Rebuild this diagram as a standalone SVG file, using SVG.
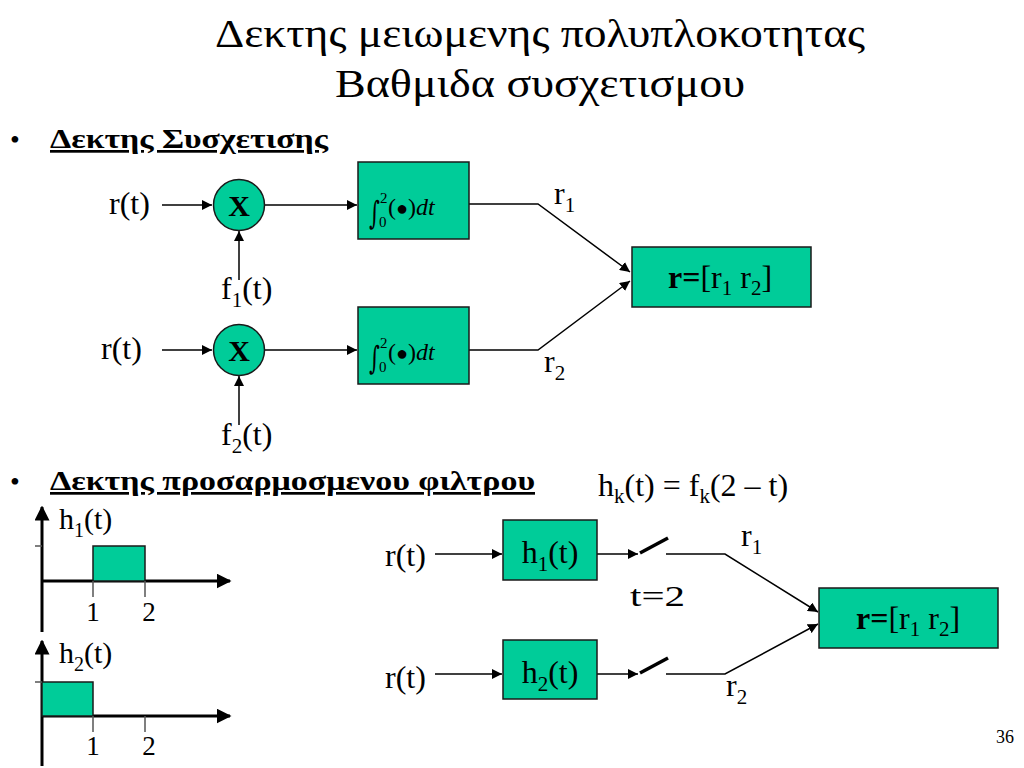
<svg xmlns="http://www.w3.org/2000/svg" width="1024" height="768" viewBox="0 0 1024 768" font-family="Liberation Serif, serif">
<defs>
<marker id="arr" viewBox="0 0 10 10" refX="10" refY="5" markerWidth="10" markerHeight="10" markerUnits="userSpaceOnUse" orient="auto">
<path d="M0,0 L10,5 L0,10 z" fill="#000"/>
</marker>
<marker id="axarr" viewBox="0 0 10 10" refX="9" refY="5" markerWidth="5" markerHeight="5" orient="auto">
<path d="M0,0 L10,5 L0,10 z" fill="#000"/>
</marker>
</defs>
<style>
.t{font-size:32px}
.title{font-size:40px}
.head{font-size:27px;font-weight:bold;text-decoration:underline}
.box{fill:#00CC99;stroke:#1a1a1a;stroke-width:1.5}
.ln{stroke:#000;stroke-width:1.5;fill:none}
.ax{stroke:#000;stroke-width:3;fill:none}
.tk{stroke:#555;stroke-width:1.5}
.sw{stroke:#000;stroke-width:3.5}
</style>
<rect width="1024" height="768" fill="#fff"/>
<text class="title" x="215" y="47" textLength="650" lengthAdjust="spacingAndGlyphs">Δεκτης μειωμενης πολυπλοκοτητας</text>
<text class="title" x="335" y="97" textLength="410" lengthAdjust="spacingAndGlyphs">Βαθμιδα συσχετισμου</text>

<text x="10" y="149" font-size="28">•</text>
<text class="head" x="50" y="148" textLength="278" lengthAdjust="spacingAndGlyphs">Δεκτης Συσχετισης</text>
<text x="10" y="491" font-size="28">•</text>
<text class="head" x="50" y="490" textLength="485" lengthAdjust="spacingAndGlyphs">Δεκτης προσαρμοσμενου φιλτρου</text>
<text x="598" y="496" font-size="32">h<tspan dy="7" font-size="21">k</tspan><tspan dy="-7">(t) = f</tspan><tspan dy="7" font-size="21">k</tspan><tspan dy="-7">(2 – t)</tspan></text>

<g id="connectors">
<line class="ln" x1="162" y1="205" x2="212" y2="205" marker-end="url(#arr)"/>
<line class="ln" x1="264" y1="205" x2="357" y2="205" marker-end="url(#arr)"/>
<line class="ln" x1="239" y1="280" x2="239" y2="231" marker-end="url(#arr)"/>
<line class="ln" x1="162" y1="350" x2="212" y2="350" marker-end="url(#arr)"/>
<line class="ln" x1="264" y1="350" x2="357" y2="350" marker-end="url(#arr)"/>
<line class="ln" x1="239" y1="425" x2="239" y2="376" marker-end="url(#arr)"/>
<polyline class="ln" points="469,204 538,204 630,272" marker-end="url(#arr)"/>
<polyline class="ln" points="469,350 538,350 630,281" marker-end="url(#arr)"/>

<line class="ln" x1="435" y1="554" x2="502" y2="554" marker-end="url(#arr)"/>
<line class="ln" x1="597" y1="554" x2="638" y2="554" marker-end="url(#arr)"/>
<line class="sw" x1="640" y1="553" x2="668" y2="538"/>
<polyline class="ln" points="666,554 725,554 818,612" marker-end="url(#arr)"/>
<line class="ln" x1="435" y1="674" x2="502" y2="674" marker-end="url(#arr)"/>
<line class="ln" x1="597" y1="674" x2="638" y2="674" marker-end="url(#arr)"/>
<line class="sw" x1="640" y1="673" x2="668" y2="658"/>
<polyline class="ln" points="666,674 725,674 818,624" marker-end="url(#arr)"/>
</g>

<g id="in1"><text class="t" x="109" y="214">r(t)</text></g>
<g id="mult1">
<circle cx="239" cy="205" r="25.5" class="box"/>
<text x="239" y="216" font-size="30" font-weight="bold" text-anchor="middle">X</text>
</g>
<g id="f1"><text class="t" x="221" y="299">f<tspan dy="8" font-size="21">1</tspan><tspan dy="-8">(t)</tspan></text></g>
<g id="int1">
<rect class="box" x="358" y="162" width="111" height="77"/>
<text x="369" y="224" font-size="32" font-family="DejaVu Serif, serif" transform="translate(369,224) scale(0.65,1) translate(-369,-224)">∫</text>
<text x="380" y="203" font-size="15">2</text>
<text x="379" y="227" font-size="15">0</text>
<text x="388" y="215" font-size="24">(<tspan font-size="20">●</tspan>)<tspan font-style="italic">dt</tspan></text>
</g>
<g id="in2"><text class="t" x="101" y="359">r(t)</text></g>
<g id="mult2">
<circle cx="239" cy="350" r="25.5" class="box"/>
<text x="239" y="361" font-size="30" font-weight="bold" text-anchor="middle">X</text>
</g>
<g id="f2"><text class="t" x="221" y="445">f<tspan dy="8" font-size="21">2</tspan><tspan dy="-8">(t)</tspan></text></g>
<g id="int2">
<rect class="box" x="358" y="307" width="111" height="77"/>
<text x="369" y="369" font-size="32" font-family="DejaVu Serif, serif" transform="translate(369,369) scale(0.65,1) translate(-369,-369)">∫</text>
<text x="380" y="348" font-size="15">2</text>
<text x="379" y="372" font-size="15">0</text>
<text x="388" y="360" font-size="24">(<tspan font-size="20">●</tspan>)<tspan font-style="italic">dt</tspan></text>
</g>
<g id="lab_r1a"><text class="t" x="554" y="204">r<tspan dy="8" font-size="21">1</tspan></text></g>
<g id="lab_r2a"><text class="t" x="544" y="372">r<tspan dy="8" font-size="21">2</tspan></text></g>
<g id="vec1">
<rect class="box" x="632" y="247" width="179" height="60"/>
<text class="t" x="720" y="288" text-anchor="middle"><tspan font-weight="bold">r=</tspan>[r<tspan dy="7" font-size="21">1</tspan><tspan dy="-7"> r</tspan><tspan dy="7" font-size="21">2</tspan><tspan dy="-7">]</tspan></text>
</g>

<g id="plot1">
<polyline class="ax" points="42,632 42,507" marker-end="url(#axarr)"/>
<polyline class="ax" points="42,581 230,581" marker-end="url(#axarr)"/>
<rect x="93" y="546" width="52" height="35" fill="#00CC99" stroke="#1a1a1a" stroke-width="1.5"/>
<line class="tk" x1="35" y1="546" x2="42" y2="546"/>
<line class="tk" x1="93" y1="581" x2="93" y2="597"/>
<line class="tk" x1="145" y1="581" x2="145" y2="597"/>
<text x="93" y="621" font-size="27" text-anchor="middle">1</text>
<text x="149" y="621" font-size="27" text-anchor="middle">2</text>
<text x="59" y="529" font-size="30">h<tspan dy="8" font-size="20">1</tspan><tspan dy="-8">(t)</tspan></text>
</g>
<g id="plot2">
<polyline class="ax" points="42,766 42,641" marker-end="url(#axarr)"/>
<polyline class="ax" points="42,716 230,716" marker-end="url(#axarr)"/>
<rect x="42" y="682" width="51" height="34" fill="#00CC99" stroke="#1a1a1a" stroke-width="1.5"/>
<line class="tk" x1="35" y1="682" x2="42" y2="682"/>
<line class="tk" x1="93" y1="716" x2="93" y2="732"/>
<line class="tk" x1="145" y1="716" x2="145" y2="732"/>
<text x="93" y="755" font-size="27" text-anchor="middle">1</text>
<text x="149" y="755" font-size="27" text-anchor="middle">2</text>
<text x="59" y="663" font-size="30">h<tspan dy="8" font-size="20">2</tspan><tspan dy="-8">(t)</tspan></text>
</g>

<g id="in3"><text class="t" x="385" y="566">r(t)</text></g>
<g id="h1box">
<rect class="box" x="503" y="520" width="94" height="60"/>
<text class="t" x="550" y="563" text-anchor="middle">h<tspan dy="8" font-size="21">1</tspan><tspan dy="-8">(t)</tspan></text>
</g>
<g id="t2"><text x="630" y="606" font-size="29" textLength="55" lengthAdjust="spacingAndGlyphs">t=2</text></g>
<g id="in4"><text class="t" x="385" y="688">r(t)</text></g>
<g id="h2box">
<rect class="box" x="503" y="640" width="94" height="59"/>
<text class="t" x="550" y="683" text-anchor="middle">h<tspan dy="8" font-size="21">2</tspan><tspan dy="-8">(t)</tspan></text>
</g>
<g id="lab_r1b"><text class="t" x="741" y="546">r<tspan dy="8" font-size="21">1</tspan></text></g>
<g id="lab_r2b"><text class="t" x="726" y="696">r<tspan dy="8" font-size="21">2</tspan></text></g>
<g id="vec2">
<rect class="box" x="819" y="588" width="179" height="60"/>
<text class="t" x="908" y="629" text-anchor="middle"><tspan font-weight="bold">r=</tspan>[r<tspan dy="7" font-size="21">1</tspan><tspan dy="-7"> r</tspan><tspan dy="7" font-size="21">2</tspan><tspan dy="-7">]</tspan></text>
</g>
<text x="1014" y="743" font-size="18" text-anchor="end">36</text>
</svg>
